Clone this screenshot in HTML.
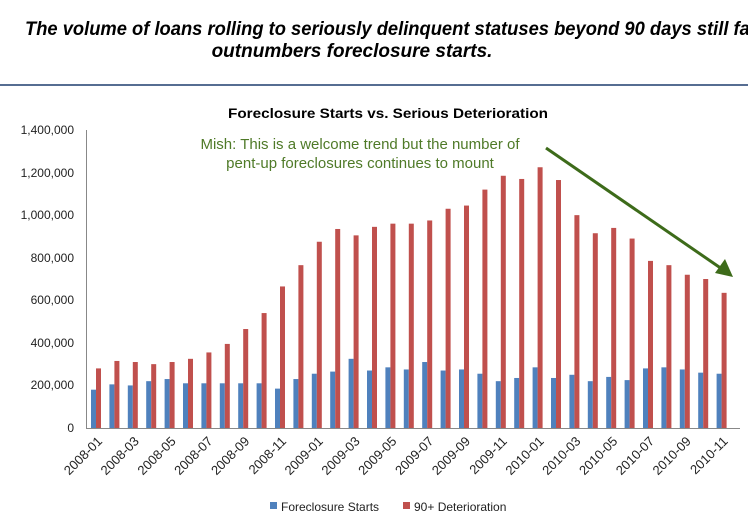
<!DOCTYPE html>
<html><head><meta charset="utf-8"><style>
body{margin:0;background:#fff;width:748px;height:517px;overflow:hidden}
</style></head><body>
<svg width="748" height="517" xmlns="http://www.w3.org/2000/svg" font-family="Liberation Sans, sans-serif">
<text x="25" y="35" font-size="19" font-weight="bold" font-style="italic" textLength="732" lengthAdjust="spacingAndGlyphs">The volume of loans rolling to seriously delinquent statuses beyond 90 days still far</text>
<text x="352" y="57" text-anchor="middle" font-size="19" font-weight="bold" font-style="italic">outnumbers foreclosure starts.</text>
<line x1="0" y1="85" x2="748" y2="85" stroke="#1f3d6e" stroke-width="1.5"/>
<text x="388" y="118" text-anchor="middle" font-size="14" font-weight="bold" textLength="320" lengthAdjust="spacingAndGlyphs">Foreclosure Starts vs. Serious Deterioration</text>
<g font-size="12" text-anchor="end" fill="#222">
<text x="74" y="134">1,400,000</text><text x="74" y="177">1,200,000</text><text x="74" y="219">1,000,000</text>
<text x="74" y="262">800,000</text><text x="74" y="304">600,000</text><text x="74" y="347">400,000</text>
<text x="74" y="389">200,000</text><text x="74" y="432">0</text>
</g>
<line x1="86.5" y1="130" x2="86.5" y2="428" stroke="#888"/>
<line x1="86" y1="428.5" x2="740" y2="428.5" stroke="#888"/>
<g id="bars"></g>
<g id="labels" font-size="13" fill="#222"></g>
<text x="360" y="149" text-anchor="middle" font-size="15" fill="#4f7a28">Mish: This is a welcome trend but the number of</text>
<text x="360" y="168" text-anchor="middle" font-size="15" fill="#4f7a28">pent-up foreclosures continues to mount</text>
<line x1="546" y1="148" x2="722" y2="269" stroke="#3d6b1a" stroke-width="3"/>
<polygon points="733,277 715,273 725,259" fill="#3d6b1a"/>
<rect x="270" y="502" width="7" height="7" fill="#4f81bd"/>
<text x="281" y="511" font-size="12" fill="#222">Foreclosure Starts</text>
<rect x="403" y="502" width="7" height="7" fill="#c0504d"/>
<text x="414" y="511" font-size="12" fill="#222">90+ Deterioration</text>
</svg>
<script>
var red=[280,315,310,300,310,325,355,395,465,540,665,765,875,935,905,945,960,960,975,1030,1045,1120,1185,1170,1225,1165,1000,915,940,890,785,765,720,700,635];
var blue=[180,205,200,220,230,210,210,210,210,210,185,230,255,265,325,270,285,275,310,270,275,255,220,235,285,235,250,220,240,225,280,285,275,260,255];
var ns="http://www.w3.org/2000/svg",g=document.getElementById('bars'),L=document.getElementById('labels');
function bar(x,v,c){var h=v*298/1400,r=document.createElementNS(ns,'rect');r.setAttribute('x',x);r.setAttribute('y',428-h);r.setAttribute('width',5);r.setAttribute('height',h);r.setAttribute('fill',c);g.appendChild(r);}
for(var i=0;i<35;i++){var x=91+18.4*i;bar(x,blue[i],'#4f81bd');bar(x+5,red[i],'#c0504d');
if(i%2==0){var y=2008+Math.floor(i/12),m=i%12+1;var t=document.createElementNS(ns,'text');var cx=x+12,cy=442;
t.setAttribute('x',cx);t.setAttribute('y',cy);t.setAttribute('text-anchor','end');t.setAttribute('transform','rotate(-45 '+cx+' '+cy+')');t.textContent=y+'-'+(m<10?'0':'')+m;L.appendChild(t);}}
</script>
</body></html>
